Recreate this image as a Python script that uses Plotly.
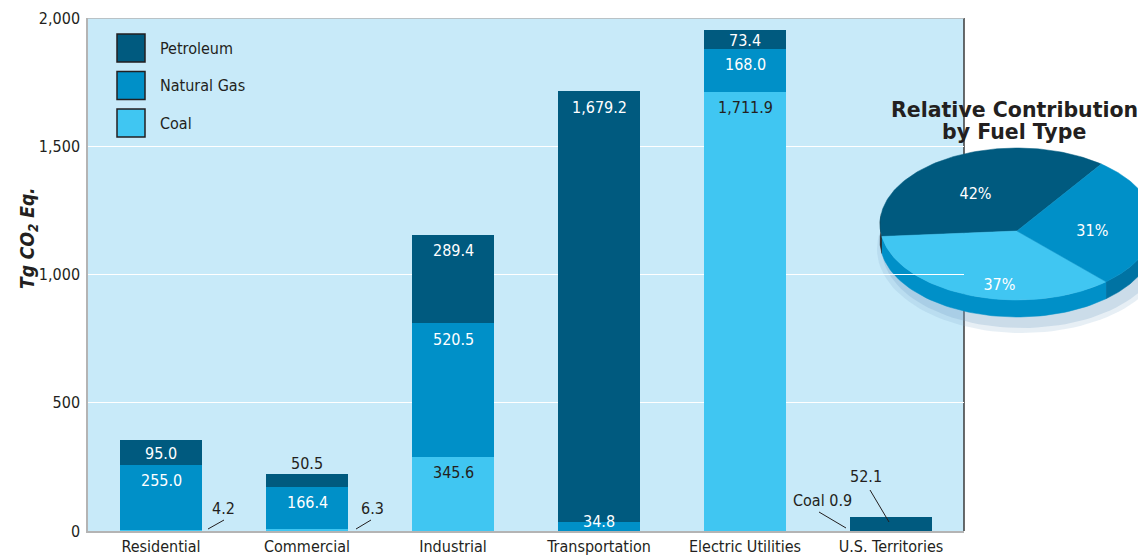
import numpy as np
import plotly.graph_objects as go

# ---------------- data ----------------
categories = ["Residential", "Commercial", "Industrial", "Transportation",
              "Electric Utilities", "U.S. Territories"]
# drawn segment heights (Tg CO2 Eq.)
coal = [4.2, 6.3, 289.4, 0.0, 1711.9, 0.9]
natural_gas = [255.0, 166.4, 520.5, 34.8, 168.0, 0.0]
petroleum = [95.0, 50.5, 345.6, 1679.2, 73.4, 52.1]

# printed value labels
coal_labels = ["4.2", "6.3", "345.6", "", "1,711.9", "Coal 0.9"]
gas_labels = ["255.0", "166.4", "520.5", "34.8", "168.0", ""]
petroleum_labels = ["95.0", "50.5", "289.4", "1,679.2", "73.4", "52.1"]

y_tickvals = [0, 500, 1000, 1500, 2000]
y_ticktext = ["0", "500", "1,000", "1,500", "2,000"]

legend_names = ["Petroleum", "Natural Gas", "Coal"]

pie_fuels = ["Petroleum", "Coal", "Natural Gas"]
pie_percent = [42, 37, 31]
pie_text = ["42%", "37%", "31%"]
pie_title_lines = ["Relative Contribution", "by Fuel Type"]

# ---------------- style ----------------
PET = "#005A7F"
GAS = "#0090C8"
COAL = "#40C6F2"
BG = "#C8EAF9"
INK = "#231F20"
NARROW = "DejaVu Sans Condensed, Liberation Sans Narrow, Arial Narrow, sans-serif"
WIDE_BOLD = "DejaVu Sans, Verdana, sans-serif"

# page geometry (the page body has an 8px margin)
BODY = 8
PAGE_W, PAGE_H = 1146, 555
PLOT_L, PLOT_T, PLOT_B = 88, 18, 531
BAR_RIGHT = 964
W, H = PAGE_W - BODY, PAGE_H - BODY
ML, MT, MB = PLOT_L - BODY, PLOT_T - BODY, PAGE_H - PLOT_B
PLOT_W = PAGE_W - PLOT_L
PLOT_H = PLOT_B - PLOT_T
PX_PER_UNIT = PLOT_H / 2000.0


def px(x):
    return (x - PLOT_L) / PLOT_W


def py(y):
    return (PLOT_B - y) / PLOT_H


fig = go.Figure()

for vals, col in [(coal, COAL), (natural_gas, GAS), (petroleum, PET)]:
    fig.add_trace(go.Bar(x=categories, y=vals, marker=dict(color=col, line=dict(width=0)),
                         showlegend=False, hoverinfo="skip", xaxis="x", yaxis="y"))

annotations = []
shapes = []

# background of bar panel
shapes.append(dict(type="rect", xref="x domain", yref="y domain", x0=0, x1=1, y0=0, y1=1,
                   fillcolor=BG, line=dict(width=0), layer="below"))
# right border (dark) and top border (gray)
shapes.append(dict(type="line", xref="x domain", yref="y domain", x0=1, x1=1, y0=0, y1=1,
                   line=dict(color="#3a3a3a", width=1.5), layer="below"))
shapes.append(dict(type="line", xref="x domain", yref="y", x0=0, x1=1, y0=2000, y1=2000,
                   line=dict(color="#b4b4b4", width=1.5), layer="above"))

# outside label placements: (text dx, text dy) screen px from (category, anchor), leader line
outside = {
    ("coal", 0): dict(t=(62, -23), l=((47, -2), (63, -11))),
    ("coal", 1): dict(t=(65, -23), l=((49, -2), (64, -11))),
    ("coal", 5): dict(t=(-69, -31), l=((-72, -19), (-45, -3))),
    ("pet", 5): dict(t=(-25, -55), l=((-21, -41), (-2, -9))),
    ("pet", 1): dict(t=(0, -10), l=None, top=True),
}

series = [("coal", coal, coal_labels, INK),
          ("gas", natural_gas, gas_labels, "white"),
          ("pet", petroleum, petroleum_labels, "white")]

for i, cat in enumerate(categories):
    base = 0.0
    for key, vals, labs, col in series:
        v = vals[i]
        top = base + v
        lab = labs[i]
        if lab:
            if (key, i) in outside:
                o = outside[(key, i)]
                anchor_y = (coal[i] + natural_gas[i] + petroleum[i]) if o.get("top") else 0
                annotations.append(dict(x=i, y=anchor_y, xref="x", yref="y", text=lab,
                                        showarrow=False, xshift=o["t"][0], yshift=-o["t"][1],
                                        font=dict(color=INK, size=16, family=NARROW)))
                if o["l"]:
                    (ax0, ay0), (ax1, ay1) = o["l"]
                    shapes.append(dict(type="line", xref="x", yref="y",
                                       xsizemode="pixel", ysizemode="pixel",
                                       xanchor=i, yanchor=0,
                                       x0=ax0, x1=ax1, y0=-ay0, y1=-ay1,
                                       line=dict(color=INK, width=1)))
            else:
                seg_px = v * PX_PER_UNIT
                off = min(16, seg_px / 2 + 1) if seg_px >= 12 else -1
                annotations.append(dict(x=i, y=top, xref="x", yref="y", text=lab,
                                        showarrow=False, yanchor="middle", yshift=-off,
                                        font=dict(color=col, size=16, family=NARROW)))
        base = top

# gridline at 1,000 running over the pie
shapes.append(dict(type="line", xref="x domain", yref="y", x0=0.9, x1=1, y0=1000, y1=1000,
                   line=dict(color="white", width=1), layer="above"))

# legend (large swatches)
legend_cols = [PET, GAS, COAL]
for k, (name, col) in enumerate(zip(legend_names, legend_cols)):
    ytop = 34 + k * 37.5
    shapes.append(dict(type="rect", xref="paper", yref="paper",
                       x0=px(117), x1=px(145), y0=py(ytop), y1=py(ytop + 28),
                       fillcolor=col, line=dict(color=INK, width=1.5)))
    annotations.append(dict(xref="paper", yref="paper", x=px(158), y=py(ytop + 14),
                            xanchor="left", yanchor="middle", text=name, showarrow=False,
                            font=dict(color=INK, size=16, family=NARROW)))

# y axis title
annotations.append(dict(xref="paper", yref="paper", x=px(28), y=py(238), text="Tg CO<sub>2</sub> Eq.",
                        textangle=-90, showarrow=False, xanchor="center", yanchor="middle",
                        font=dict(color=INK, size=19, family=NARROW, weight="bold", style="italic")))

# ---------------- pseudo 3D pie (page-pixel axes) ----------------
cx, cy, rx, ry, depth = 1017, 224, 137, 76, 17
apx, apy = 1017, 231
start = 52
label_r = [0.56, 0.74, 0.55]
label_turn = [2, 10, -3]
fr = np.array(pie_percent, dtype=float) / sum(pie_percent)
edges = start + 360 * np.concatenate([[0], np.cumsum(fr)])
face_cols = {"Petroleum": PET, "Coal": COAL, "Natural Gas": GAS}
rim_cols = {"Petroleum": "#1c1a1b", "Coal": GAS, "Natural Gas": "#0073A3"}


def ell(th):
    t = np.radians(th)
    return cx + rx * np.cos(t), cy - ry * np.sin(t)


# shadow
for grow, alpha in [(8, 0.18), (3, 0.25)]:
    t = np.linspace(0, 360, 121)
    sx = cx + 5 + (rx + grow) * np.cos(np.radians(t))
    sy = cy + depth + 8 - (ry + grow) * np.sin(np.radians(t))
    fig.add_trace(go.Scatter(x=sx, y=sy, fill="toself", mode="lines", line=dict(width=0),
                             fillcolor=f"rgba(120,165,200,{alpha})", hoverinfo="skip",
                             showlegend=False, xaxis="x2", yaxis="y2"))

# rims
for j, fuel in enumerate(pie_fuels):
    a, b = edges[j], edges[j + 1]
    for lo_f, hi_f in [(172, 360), (532, 720)]:
        lo, hi = max(a, lo_f), min(b, hi_f)
        if hi <= lo:
            continue
        t = np.linspace(lo, hi, 60)
        ex, ey = ell(t)
        xs = np.concatenate([ex, ex[::-1]])
        ys = np.concatenate([ey, (ey + depth)[::-1]])
        fig.add_trace(go.Scatter(x=xs, y=ys, fill="toself", mode="lines",
                                 line=dict(width=0.5, color=rim_cols[fuel]),
                                 fillcolor=rim_cols[fuel], hoverinfo="skip",
                                 showlegend=False, xaxis="x2", yaxis="y2"))

# top faces
for j, fuel in enumerate(pie_fuels):
    a, b = edges[j], edges[j + 1]
    t = np.linspace(a, b, 90)
    ex, ey = ell(t)
    xs = np.concatenate([[apx], ex, [apx]])
    ys = np.concatenate([[apy], ey, [apy]])
    fig.add_trace(go.Scatter(x=xs, y=ys, fill="toself", mode="lines",
                             line=dict(width=0.5, color=face_cols[fuel]),
                             fillcolor=face_cols[fuel], hoverinfo="skip",
                             showlegend=False, xaxis="x2", yaxis="y2"))

# pie labels
mids = (edges[:-1] + edges[1:]) / 2 + np.array(label_turn)
lr = np.array(label_r)
lx = apx + lr * rx * np.cos(np.radians(mids))
ly = apy - lr * ry * np.sin(np.radians(mids))
fig.add_trace(go.Scatter(x=lx, y=ly, mode="text", text=pie_text,
                         textfont=dict(color="white", size=16, family=NARROW),
                         hoverinfo="skip", showlegend=False, xaxis="x2", yaxis="y2"))

for line_txt, ly_title in zip(pie_title_lines, [110, 132]):
    annotations.append(dict(xref="x2", yref="y2", x=1014, y=ly_title,
                            text=line_txt, showarrow=False,
                            xanchor="center", yanchor="middle",
                            font=dict(color=INK, size=20.5, family=WIDE_BOLD, weight="bold")))

fig.update_layout(
    width=W, height=H,
    margin=dict(l=ML, r=0, t=MT, b=MB, pad=0),
    paper_bgcolor="white", plot_bgcolor="rgba(0,0,0,0)",
    barmode="stack", bargap=0.4384,
    showlegend=False, hovermode=False,
    xaxis=dict(domain=[0, (BAR_RIGHT - PLOT_L) / PLOT_W], type="category",
               categoryorder="array", categoryarray=categories,
               showline=True, linecolor="#b4b4b4", linewidth=1.5, ticks="",
               showgrid=False, zeroline=False, fixedrange=True,
               tickfont=dict(color=INK, size=16, family=NARROW)),
    yaxis=dict(range=[0, 2000], tickvals=y_tickvals, ticktext=y_ticktext,
               showline=True, linecolor="#b4b4b4", linewidth=1.5, ticks="",
               showgrid=True, gridcolor="white", gridwidth=1, zeroline=False,
               fixedrange=True, ticklabelstandoff=3,
               tickfont=dict(color=INK, size=16, family=NARROW)),
    xaxis2=dict(domain=[0, 1], range=[PLOT_L, PAGE_W], anchor="y2", visible=False, fixedrange=True),
    yaxis2=dict(domain=[0, 1], range=[PLOT_B, PLOT_T], anchor="x2", visible=False, fixedrange=True),
    annotations=annotations,
    shapes=shapes,
)

fig.write_html("out.html")
